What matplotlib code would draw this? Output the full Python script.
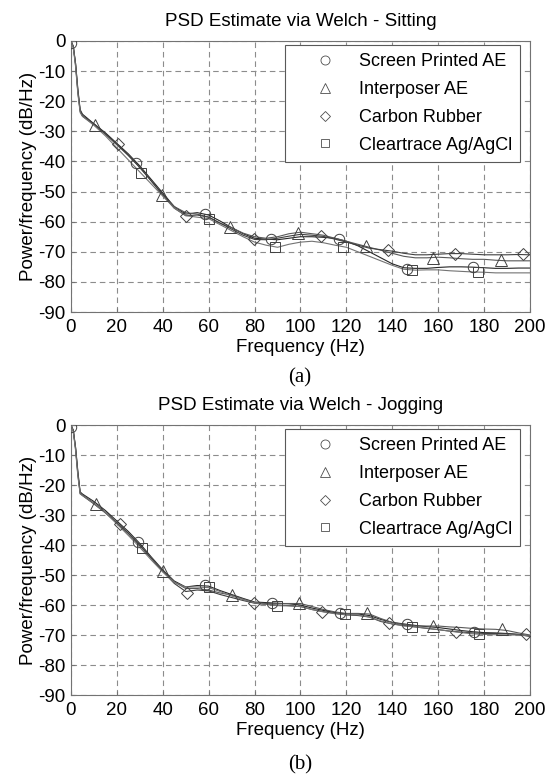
import numpy as np
import matplotlib.pyplot as plt
from matplotlib.lines import Line2D

# frequency knots (Hz) used for every trace
FREQ = [0, 1, 2, 3, 4, 5, 10, 15, 20, 25, 30, 35, 40, 45, 50, 55, 60, 65, 70, 75,
        80, 85, 90, 95, 100, 105, 110, 115, 120, 125, 130, 135, 140, 145, 150,
        155, 160, 165, 170, 175, 180, 185, 190, 195, 200]

LABELS = ['Screen Printed AE', 'Interposer AE', 'Carbon Rubber', 'Cleartrace Ag/AgCl']

# --- (a) Sitting: line values (dB/Hz) ---
sit_sp = [0, -1.8, -7.5, -16, -22.8, -24.3, -27.5, -30.5, -34, -37.5, -41.5, -46, -50.5, -55, -57.5,
          -57, -57.8, -59.8, -62, -64, -65.5, -65.8, -66, -65.5, -65, -65, -65.2, -65.5, -66.5, -68,
          -70, -72, -74, -75.3, -75.5, -75.5, -75.2, -75, -75, -75.1, -75.3, -75.5, -75.5, -75.4, -75.4]
sit_ip = [0, -1.8, -7.5, -16.5, -23.2, -25, -27.8, -31, -34.5, -38, -42, -46.5, -51.3, -55, -57,
          -57.5, -58.5, -60.5, -62, -63.8, -65, -65.5, -65, -64, -63.5, -64, -64.5, -65.5, -66.5, -67.5,
          -68.5, -69.5, -70.5, -71.5, -72, -72, -71.8, -72, -72.3, -72.5, -72.5, -72.8, -73, -73, -73]
sit_cr = [0, -1.8, -8, -17, -23.3, -24.8, -27.5, -30.8, -34.2, -38, -42, -46.5, -51, -55.5, -58,
          -57.8, -58.5, -60.5, -62.5, -64.5, -65.9, -66, -65.5, -64.8, -64.2, -64.5, -64.9, -65.8, -66.8, -67.8,
          -68.8, -69.3, -69.8, -70.5, -71, -71, -70.8, -70.6, -70.6, -70.8, -71, -71, -71, -70.9, -71]
sit_ct = [0, -2.2, -8.5, -17.5, -23.8, -25, -28, -31.5, -35.5, -39.5, -43.5, -47.5, -51.5, -55.5, -58,
          -58.5, -59, -61, -63, -65, -66.8, -67.8, -68.5, -67.5, -66.8, -66.5, -67, -67.8, -68.5, -70,
          -71.5, -73, -74.5, -75.8, -76.1, -76, -76, -76.3, -76.5, -76.7, -76.8, -77, -77, -77, -77]

# (a) marker positions
sit_sp_mf = [0, 28.5, 58.3, 87.2, 116.9, 146.6, 175.3]
sit_sp_mv = [-0.5, -40.6, -57.3, -65.8, -65.6, -75.6, -75.1]
sit_ip_mf = [10.4, 39.8, 69.1, 98.7, 128.5, 157.9, 187.4]
sit_ip_mv = [-27.8, -51.3, -61.9, -63.6, -68.2, -71.9, -72.8]
sit_cr_mf = [20.6, 50.3, 79.7, 108.8, 138.3, 167.3, 197.1]
sit_cr_mv = [-34.2, -58.2, -65.9, -64.8, -69.5, -70.6, -70.9]
sit_ct_mf = [30.3, 60, 89, 118.7, 148.4, 177.5]
sit_ct_mv = [-43.7, -59, -68.5, -68.4, -76.1, -76.7]

# --- (b) Jogging: line values (dB/Hz) ---
jog_sp = [0, -1.8, -7.5, -15.5, -22.3, -23, -25.5, -28.5, -32, -35.5, -39.5, -44, -48.3, -52, -54,
          -53.5, -53.7, -55.2, -56.5, -57.8, -59, -59.2, -59.4, -59.6, -60, -61, -61.8, -62.5, -63, -63,
          -63.5, -64.8, -65.8, -66.3, -66.8, -67.2, -67.5, -68, -68.5, -68.9, -69.2, -69.3, -69.5, -69.8, -70.2]
jog_ip = [0, -1.8, -7.5, -16, -22.7, -23.3, -26, -29, -32.5, -36, -40, -44.3, -48.6, -52.3, -54.5,
          -54.5, -55, -56, -56.7, -58, -59.2, -59.5, -59.5, -59.5, -59.5, -60.5, -61.5, -62.3, -62.8, -62.8,
          -63, -64.5, -65.8, -66.5, -67, -67, -67, -67.3, -67.5, -67.8, -68, -68.1, -68.5, -69.3, -70]
jog_cr = [0, -1.8, -8, -16.5, -22.8, -23.5, -26.3, -29.3, -32.7, -36.2, -40.2, -44.5, -48.8, -52.8, -55.5,
          -55, -55.3, -56.5, -57.5, -58.5, -59.4, -59.8, -60, -60.2, -60.5, -61.5, -62.2, -62.8, -63.3, -63.5,
          -64, -65.5, -66.3, -66.8, -67.3, -67.8, -68.2, -68.7, -69, -69.3, -69.5, -69.5, -69.6, -69.8, -70.5]
jog_ct = [0, -2.2, -8.5, -17, -23, -23.5, -26.2, -29.2, -33, -36.8, -40.8, -45, -49, -52.5, -54,
          -54, -54.2, -55.5, -57, -58.2, -59.3, -59.8, -60.2, -60.3, -60.5, -61.5, -62.3, -62.9, -63.2, -63.3,
          -64, -65.3, -66.3, -67, -67.3, -67.7, -68.2, -68.7, -69.2, -69.6, -69.8, -69.9, -70, -70, -70.3]

jog_sp_mf = [0, 29, 58.4, 87.8, 117.2, 146.3, 175.7]
jog_sp_mv = [-0.5, -38.9, -53.3, -59.2, -62.8, -66.4, -68.9]
jog_ip_mf = [11, 40.2, 70, 99.5, 128.8, 157.9, 187.6]
jog_ip_mv = [-26.3, -48.6, -56.7, -59.4, -62.8, -67, -68.1]
jog_cr_mf = [21.3, 50.4, 79.9, 109.2, 138.7, 167.6, 198.1]
jog_cr_mv = [-33, -55.9, -59.4, -62.2, -66.1, -68.9, -69.7]
jog_ct_mf = [30.8, 60.3, 89.9, 119.4, 148.4, 177.8]
jog_ct_mv = [-41.1, -54.1, -60.3, -63.1, -67.2, -69.7]

MARKERS = ['o', '^', 'D', 's']
MSIZES = [7.5, 8, 6, 7]
LINE_GREYS = ['0.15', '0.35', '0.25', '0.45']

plt.rcParams['font.family'] = ['Liberation Sans', 'DejaVu Sans']
plt.rcParams['axes.unicode_minus'] = False


def draw_panel(ax, title, lines, markers):
    for k, y in enumerate(lines):
        ax.plot(FREQ, y, color=LINE_GREYS[k], lw=0.8, zorder=3)
    for k, (mf, mv) in enumerate(markers):
        ax.plot(mf, mv, linestyle='none', marker=MARKERS[k], ms=MSIZES[k],
                mfc='none', mec='0.25', mew=0.7, zorder=4)

    ax.set_xlim(0, 200)
    ax.set_ylim(-90, 0)
    ax.set_xticks(np.arange(0, 201, 20))
    ax.set_yticks(np.arange(-90, 1, 10))
    ax.tick_params(direction='in', length=3, color='0.45', labelsize=13.5)
    ax.tick_params(axis='x', pad=5)
    ax.tick_params(axis='y', pad=4)
    ax.grid(True, color='0.55', lw=0.8, linestyle=(0, (5, 3.5)))
    for s in ax.spines.values():
        s.set_color('0.45')
        s.set_linewidth(0.8)
    ax.set_title(title, fontsize=13.5, pad=11)
    ax.set_xlabel('Frequency (Hz)', fontsize=13.5, labelpad=2)
    ax.set_ylabel('Power/frequency (dB/Hz)', fontsize=13.5, labelpad=1)

    handles = [Line2D([], [], linestyle='none', marker=MARKERS[k], ms=MSIZES[k] - 1,
                      mfc='none', mec='0.3', mew=0.6) for k in range(4)]
    leg = ax.legend(handles, LABELS, loc='upper right', bbox_to_anchor=(0.978, 0.985),
                    borderaxespad=0, fontsize=13, fancybox=False, framealpha=1,
                    edgecolor='0.35', labelspacing=0.6, handlelength=3.6,
                    handletextpad=0.05, borderpad=0.45)
    leg.get_frame().set_linewidth(0.8)
    leg.set_zorder(5)


fig = plt.figure(figsize=(5.46, 7.75), dpi=100)
ax1 = fig.add_axes([0.130, 0.5974, 0.8407, 0.3497])
ax2 = fig.add_axes([0.130, 0.1032, 0.8407, 0.3484])

draw_panel(ax1, 'PSD Estimate via Welch - Sitting',
           [sit_sp, sit_ip, sit_cr, sit_ct],
           [(sit_sp_mf, sit_sp_mv), (sit_ip_mf, sit_ip_mv),
            (sit_cr_mf, sit_cr_mv), (sit_ct_mf, sit_ct_mv)])
draw_panel(ax2, 'PSD Estimate via Welch - Jogging',
           [jog_sp, jog_ip, jog_cr, jog_ct],
           [(jog_sp_mf, jog_sp_mv), (jog_ip_mf, jog_ip_mv),
            (jog_cr_mf, jog_cr_mv), (jog_ct_mf, jog_ct_mv)])

fig.text(0.549, 0.5123, '(a)', ha='center', va='center', fontsize=15,
         family=['Liberation Serif', 'DejaVu Serif'])
fig.text(0.549, 0.0129, '(b)', ha='center', va='center', fontsize=15,
         family=['Liberation Serif', 'DejaVu Serif'])

fig.savefig('out.png', dpi=100)
